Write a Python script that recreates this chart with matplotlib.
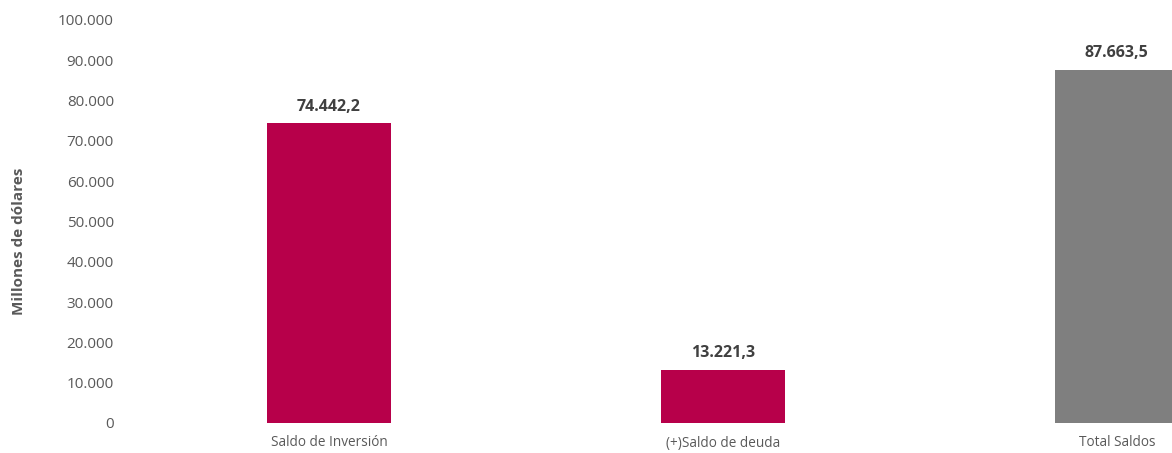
import matplotlib.pyplot as plt
from matplotlib.ticker import FuncFormatter, MultipleLocator

plt.rcParams['font.family'] = ['Open Sans', 'DejaVu Sans']

categorias = ["Saldo de Inversión", "(+)Saldo de deuda", "Total Saldos"]
valores = [74442.2, 13221.3, 87663.5]
colores = ["#B7004A", "#B7004A", "#7F7F7F"]


def miles(v, pos=None):
    return f"{int(round(v)):,}".replace(",", ".")


def etiqueta(v):
    return f"{v:,.1f}".replace(",", "X").replace(".", ",").replace("X", ".")


fig = plt.figure(figsize=(11.72, 4.53), dpi=100)
ax = fig.add_axes([132 / 1172, 30 / 453, 1 - 132 / 1172, 403 / 453])

x = list(range(len(categorias)))
barras = ax.bar(x, valores, width=0.315, color=colores)

for b, v in zip(barras, valores):
    ax.annotate(etiqueta(v), (b.get_x() + b.get_width() / 2, v),
                xytext=(0, 6), textcoords="offset points",
                ha="center", va="bottom", fontsize=11.5, fontweight="bold",
                color="#404040")

ax.set_xlim(-0.5, 2.14)
ax.set_ylim(0, 100000)
ax.yaxis.set_major_locator(MultipleLocator(10000))
ax.yaxis.set_major_formatter(FuncFormatter(miles))
ax.set_xticks(x)
ax.set_xticklabels(categorias)

for s in ax.spines.values():
    s.set_visible(False)
ax.tick_params(axis="both", length=0, colors="#595959")
ax.tick_params(axis="y", labelsize=11, pad=13)
ax.tick_params(axis="x", labelsize=9.8, pad=9)

ax.set_ylabel("Millones de dólares", fontsize=11, fontweight="bold",
              color="#595959")
ax.yaxis.set_label_coords(-106 / 1040, 0.45)

fig.savefig("out.png", dpi=100)
